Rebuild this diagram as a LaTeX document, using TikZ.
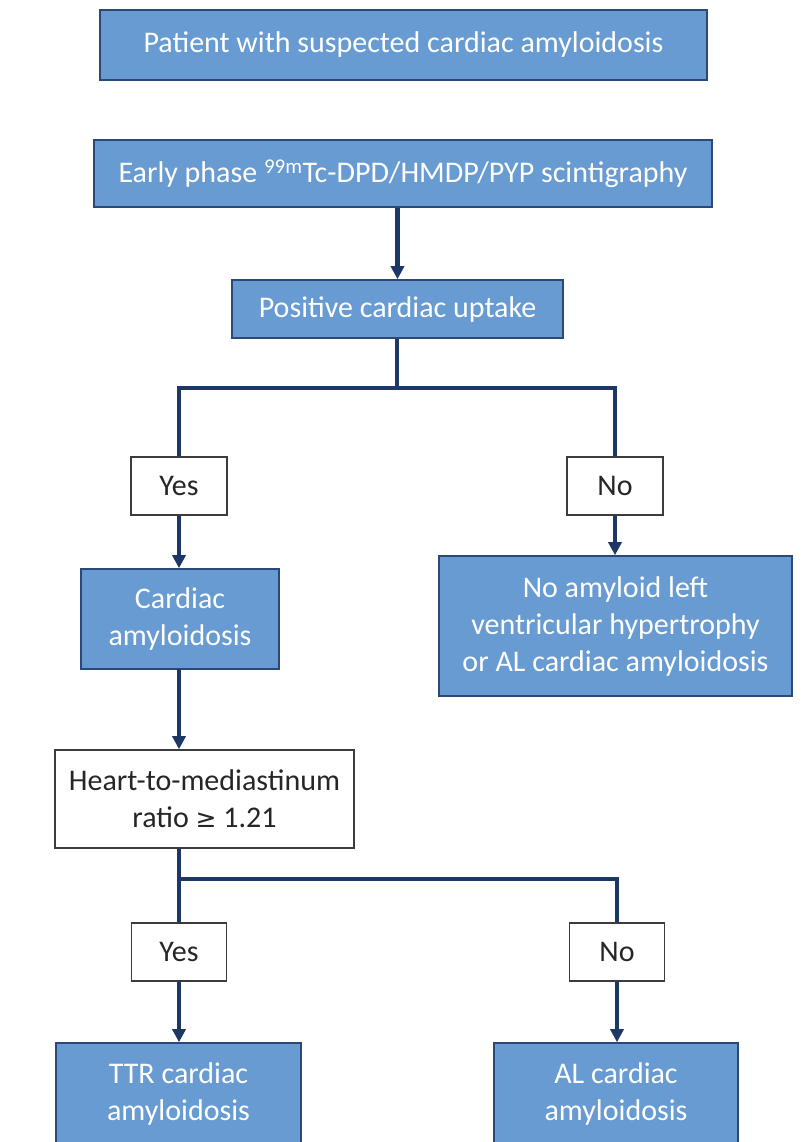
\documentclass[tikz,border=0pt]{standalone}
\usepackage{fontspec}
\setmainfont{Carlito}
\usetikzlibrary{arrows.meta}
\definecolor{boxfill}{RGB}{104,155,209}
\definecolor{boxedge}{RGB}{44,72,120}
\definecolor{linkcol}{RGB}{30,56,102}
\definecolor{greyedge}{RGB}{60,60,60}
\begin{document}
\begin{tikzpicture}[x=1pt,y=-1pt,
  bluebox/.style={draw=boxedge,line width=1.6pt,fill=boxfill,text=white,
    inner sep=0pt,align=center,font=\fontsize{30}{37}\selectfont},
  whitebox/.style={draw=greyedge,line width=1.6pt,fill=white,text=black!85,
    inner sep=0pt,align=center,font=\fontsize{30}{37}\selectfont},
  link/.style={draw=linkcol,line width=4.5pt},
  arr/.style={link,-{Triangle[width=13pt,length=13pt]}}
]
\useasboundingbox (0,0) rectangle (802,1142);
\clip (0,0) rectangle (802,1142);
\fill[white] (0,0) rectangle (802,1142);

\node[bluebox,minimum width=607pt,minimum height=70pt] (b1) at (403.5,45) {Patient with suspected cardiac amyloidosis};
\node[bluebox,minimum width=618pt,minimum height=67pt] (b2) at (403,173.5) {Early phase \textsuperscript{99m}Tc-DPD/HMDP/PYP scintigraphy};
\node[bluebox,minimum width=331pt,minimum height=58pt] (b3) at (397.5,309) {Positive cardiac uptake};
\node[whitebox,minimum width=96pt,minimum height=58pt] (yes1) at (179,486) {Yes};
\node[whitebox,minimum width=96pt,minimum height=58pt] (no1) at (615,486) {No};
\node[bluebox,minimum width=198pt,minimum height=100pt] (card) at (180,619) {Cardiac\\amyloidosis};
\node[bluebox,minimum width=353pt,minimum height=140pt] (noam) at (615.5,626) {No amyloid left\\ventricular hypertrophy\\or AL cardiac amyloidosis};
\node[whitebox,minimum width=299pt,minimum height=98pt] (heart) at (204.5,799) {Heart-to-mediastinum\\ratio {\fontspec{DejaVu Sans}\fontsize{25}{37}\selectfont ≥} 1.21};
\node[whitebox,minimum width=95pt,minimum height=58pt] (yes2) at (179,952) {Yes};
\node[whitebox,minimum width=95pt,minimum height=58pt] (no2) at (617,952) {No};
\node[bluebox,minimum width=245pt,minimum height=102pt] (ttr) at (178.5,1094) {TTR cardiac\\amyloidosis};
\node[bluebox,minimum width=244pt,minimum height=102pt] (al) at (616,1094) {AL cardiac\\amyloidosis};

\coordinate (j1) at (397,388);
\coordinate (j1l) at (179,388);
\coordinate (j1r) at (615,388);
\coordinate (j2l) at (179,879);
\coordinate (j2r) at (617,879);
\coordinate (cs) at (179,669);

\draw[arr] (b2.south -| b3.north) -- (b3.north);
\draw[link] (b3.south -| j1) -- (j1);
\draw[link,line join=miter] (yes1.north) -- (j1l) -- (j1r) -- (no1.north);
\draw[arr] (yes1.south) -- (yes1.south |- card.north);
\draw[arr] (no1.south) -- (no1.south |- noam.north);
\draw[arr] (cs) -- (cs |- heart.north);
\draw[link] (heart.south -| j2l) -- (yes2.north);
\draw[link,line join=miter] (j2l) -- (j2r) -- (no2.north);
\draw[arr] (yes2.south) -- (ttr.north -| yes2.south);
\draw[arr] (no2.south) -- (al.north -| no2.south);
\end{tikzpicture}
\end{document}
